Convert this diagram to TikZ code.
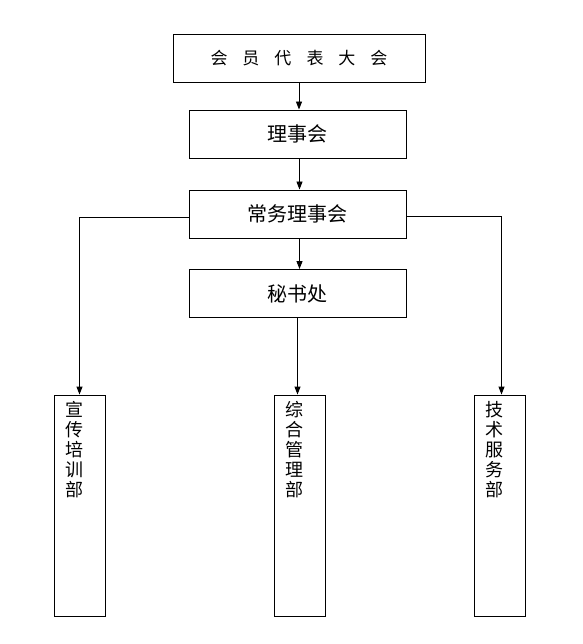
\documentclass[tikz,border=0pt]{standalone}
\usepackage{fontspec}
\newfontfamily\cjk{Noto Sans CJK SC}
\usepackage{tikz}
\usetikzlibrary{arrows.meta, positioning, calc}
\newcommand{\vcol}[1]{\parbox[c][208pt][t]{20pt}{\centering\fontsize{18}{20}\selectfont #1}}

\begin{document}
\begin{tikzpicture}[x=1pt, y=-1pt, >={Triangle[length=8pt, width=6pt]},
    hbox/.style={draw, line width=0.9pt, inner sep=0pt, minimum width=217, minimum height=48, font=\cjk\fontsize{20}{22}\selectfont},
    dept/.style={draw, line width=0.9pt, inner sep=0pt, minimum width=51, minimum height=221, font=\cjk},
    link/.style={->, line width=0.9pt}]
    \useasboundingbox (0,0) rectangle (582,644);
    \node[hbox, minimum width=252, font=\cjk\fontsize{17}{20}\selectfont] (congress) at (299,58) {会\hspace{15pt}员\hspace{15pt}代\hspace{15pt}表\hspace{15pt}大\hspace{15pt}会};
    \node[hbox] (council) at (297.5,134) {理事会};
    \node[hbox] (standing) at (297.5,214) {常务理事会};
    \node[hbox] (secretariat) at (297.5,293.5) {秘书处};
    \node[dept] (publicity) at (79.5,505.5) {\hspace*{-11pt}\vcol{宣\\传\\培\\训\\部}};
    \node[dept] (admin) at (299.5,505.5) {\hspace*{-11pt}\vcol{综\\合\\管\\理\\部}};
    \node[dept] (tech) at (499.5,505.5) {\hspace*{-11pt}\vcol{技\\术\\服\\务\\部}};
    \coordinate (lstart) at ([yshift=-3pt]standing.west);
    \coordinate (rstart) at ([yshift=-2pt]standing.east);
    \coordinate (rend) at ([xshift=2pt]tech.north);
    \draw[link] (congress.south) -- (congress.south |- council.north);
    \draw[link] ([xshift=2pt]council.south) -- ([xshift=2pt]council.south |- standing.north);
    \draw[link] ([xshift=2pt]standing.south) -- ([xshift=2pt]standing.south |- secretariat.north);
    \draw[link] (secretariat.south) -- (secretariat.south |- admin.north);
    \draw[link] (lstart) -- (publicity.north |- lstart) -- (publicity.north);
    \draw[link] (rstart) -- (rend |- rstart) -- (rend);
\end{tikzpicture}
\end{document}
